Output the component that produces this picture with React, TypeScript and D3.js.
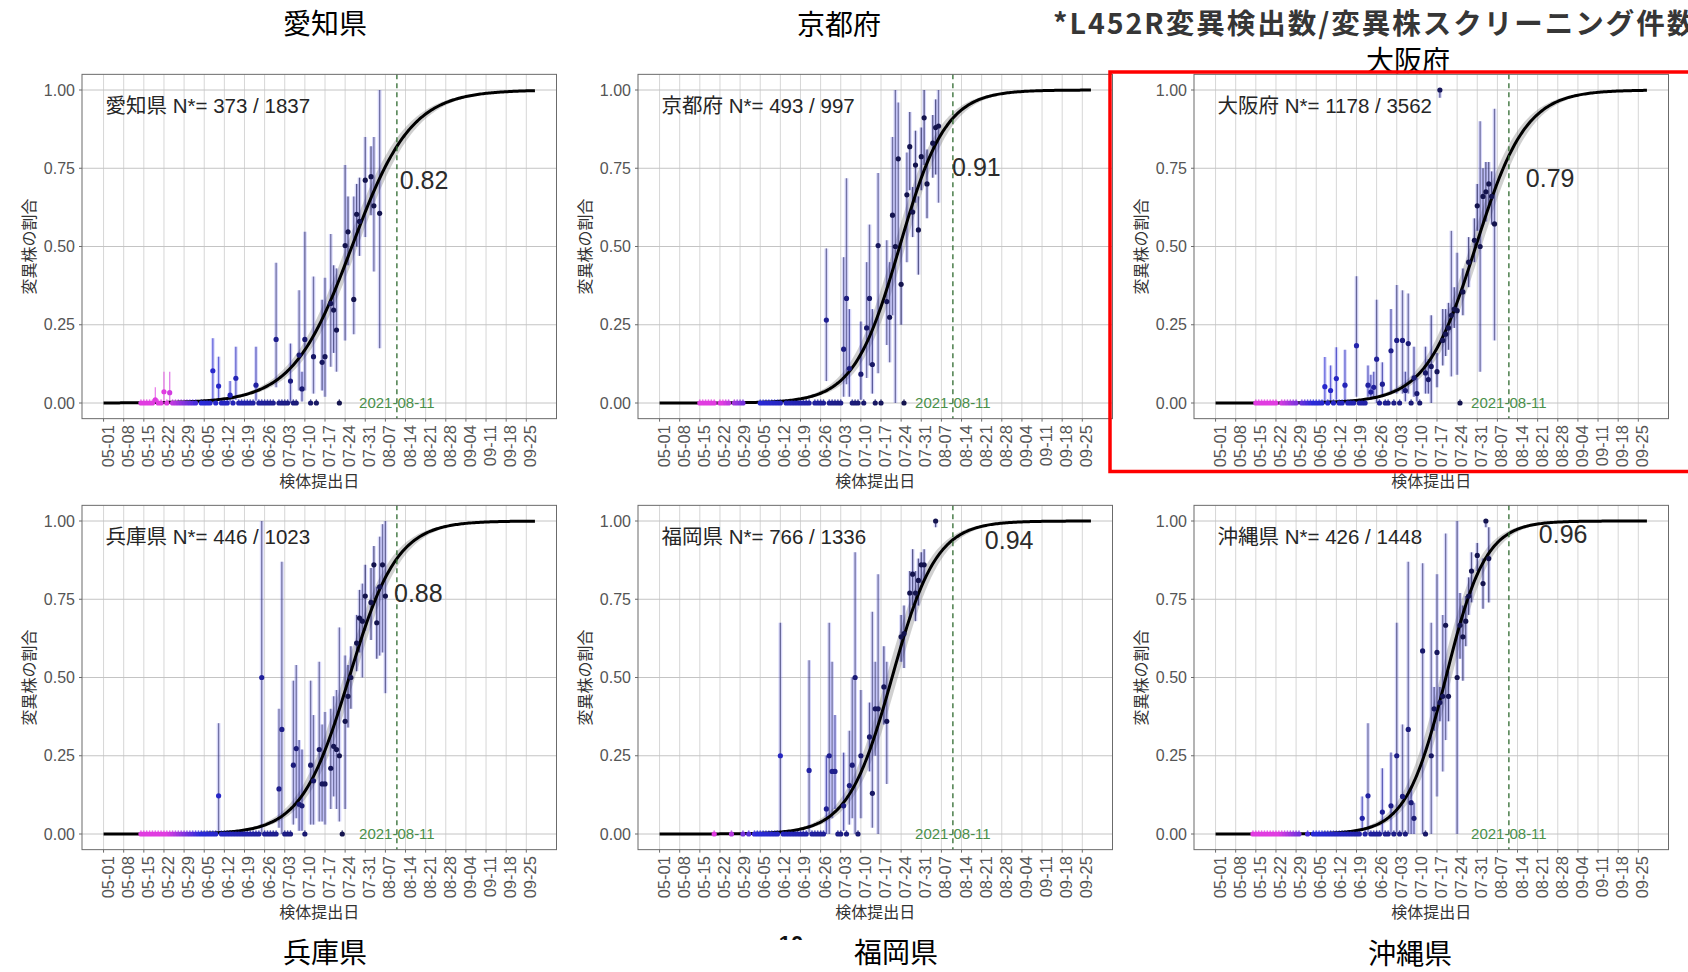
import React from "react";
import * as d3 from "d3";

type Obs = [string, number, number, number];

// ---------- data ----------
const prefectures = ["愛知県", "京都府", "大阪府", "兵庫県", "福岡県", "沖縄県"];
const variantCounts = [373, 493, 1178, 446, 766, 426];
const screenedCounts = [1837, 997, 3562, 1023, 1336, 1448];
// fitted share of the variant on the cut-off date, and daily growth rate of the logistic fit
const shareAtCutoff = [0.82, 0.91, 0.79, 0.88, 0.94, 0.96];
const growthPerDay = [0.097, 0.125, 0.115, 0.12, 0.13, 0.145];
const cutoffDate = "2021-08-11";
const fitStart = "2021-05-01";
const fitEnd = "2021-09-28";
const tickLabels = [
  "05-01", "05-08", "05-15", "05-22", "05-29", "06-05", "06-12", "06-19", "06-26", "07-03", "07-10",
  "07-17", "07-24", "07-31", "08-07", "08-14", "08-21", "08-28", "09-04", "09-11", "09-18", "09-25",
];
const yTicks = [0, 0.25, 0.5, 0.75, 1];
const headline = "*L452R変異検出数/変異株スクリーニング件数";

// daily observations: [date, share, lower CI, upper CI]
const aichiObs: Obs[] = [
  ["05-19", 0.01, 0.0, 0.05], ["05-22", 0.036, 0.005, 0.1], ["05-24", 0.033, 0.005, 0.1],
  ["06-08", 0.103, 0.0, 0.207], ["06-10", 0.054, 0.01, 0.148], ["06-14", 0.025, 0.003, 0.07],
  ["06-16", 0.079, 0.01, 0.18], ["06-23", 0.057, 0.007, 0.18], ["06-30", 0.203, 0.05, 0.448],
  ["07-05", 0.07, 0.0, 0.19], ["07-08", 0.153, 0.04, 0.36], ["07-09", 0.045, 0.005, 0.1],
  ["07-10", 0.203, 0.04, 0.547], ["07-13", 0.148, 0.03, 0.404], ["07-16", 0.13, 0.04, 0.33],
  ["07-17", 0.148, 0.02, 0.4], ["07-19", 0.318, 0.116, 0.54], ["07-20", 0.297, 0.16, 0.44],
  ["07-21", 0.233, 0.1, 0.43], ["07-24", 0.503, 0.2, 0.76], ["07-25", 0.547, 0.44, 0.66],
  ["07-27", 0.331, 0.22, 0.66], ["07-28", 0.603, 0.5, 0.7], ["07-29", 0.58, 0.47, 0.72],
  ["07-31", 0.712, 0.53, 0.85], ["08-02", 0.723, 0.6, 0.82], ["08-03", 0.63, 0.42, 0.85],
  ["08-05", 0.606, 0.175, 1.0],
];
const kyotoObs: Obs[] = [
  ["06-28", 0.265, 0.07, 0.494], ["07-04", 0.172, 0.02, 0.466], ["07-05", 0.334, 0.06, 0.718],
  ["07-06", 0.11, 0.02, 0.3], ["07-10", 0.092, 0.01, 0.26], ["07-12", 0.24, 0.08, 0.45],
  ["07-13", 0.334, 0.12, 0.57], ["07-14", 0.123, 0.03, 0.3], ["07-16", 0.503, 0.095, 0.735],
  ["07-19", 0.324, 0.185, 0.52], ["07-20", 0.274, 0.13, 0.45], ["07-21", 0.6, 0.28, 0.85],
  ["07-22", 0.5, 0.0, 1.0], ["07-23", 0.78, 0.49, 0.96], ["07-24", 0.379, 0.25, 0.52],
  ["07-26", 0.665, 0.45, 0.8], ["07-27", 0.819, 0.68, 0.93], ["07-28", 0.61, 0.53, 0.69],
  ["07-29", 0.76, 0.64, 0.87], ["07-30", 0.553, 0.41, 0.66], ["07-31", 0.787, 0.68, 0.88],
  ["08-01", 0.911, 0.76, 1.0], ["08-02", 0.7, 0.59, 0.81], ["08-04", 0.83, 0.72, 0.92],
  ["08-05", 0.88, 0.73, 0.97], ["08-06", 0.885, 0.64, 1.0],
];
const osakaObs: Obs[] = [
  ["06-08", 0.052, 0.005, 0.147], ["06-10", 0.04, 0.005, 0.12], ["06-12", 0.078, 0.01, 0.178],
  ["06-15", 0.057, 0.005, 0.17], ["06-19", 0.183, 0.02, 0.405], ["06-23", 0.057, 0.02, 0.12],
  ["06-24", 0.035, 0.01, 0.09], ["06-25", 0.05, 0.02, 0.1], ["06-26", 0.14, 0.0, 0.33],
  ["06-28", 0.06, 0.02, 0.13], ["07-01", 0.167, 0.03, 0.3], ["07-03", 0.2, 0.03, 0.377],
  ["07-05", 0.2, 0.03, 0.36], ["07-06", 0.04, 0.005, 0.1], ["07-07", 0.19, 0.03, 0.35],
  ["07-09", 0.08, 0.02, 0.18], ["07-10", 0.03, 0.005, 0.08], ["07-13", 0.096, 0.03, 0.18],
  ["07-14", 0.075, 0.03, 0.14], ["07-15", 0.117, 0.0, 0.28], ["07-17", 0.1, 0.05, 0.16],
  ["07-18", 1.0, 0.975, 1.0], ["07-19", 0.2, 0.12, 0.3], ["07-20", 0.22, 0.15, 0.3],
  ["07-21", 0.24, 0.17, 0.32], ["07-22", 0.28, 0.085, 0.55], ["07-23", 0.3, 0.24, 0.37],
  ["07-24", 0.295, 0.09, 0.48], ["07-26", 0.355, 0.28, 0.43], ["07-28", 0.45, 0.37, 0.53],
  ["07-30", 0.52, 0.45, 0.59], ["07-31", 0.63, 0.55, 0.7], ["08-01", 0.5, 0.1, 0.9],
  ["08-02", 0.66, 0.57, 0.75], ["08-03", 0.675, 0.58, 0.77], ["08-04", 0.7, 0.63, 0.77],
  ["08-05", 0.66, 0.57, 0.74], ["08-06", 0.572, 0.2, 0.94],
];
const hyogoObs: Obs[] = [
  ["06-10", 0.122, 0.0, 0.354], ["06-25", 0.5, 0.0, 1.0], ["07-01", 0.144, 0.02, 0.4],
  ["07-02", 0.334, 0.0, 0.87], ["07-06", 0.22, 0.03, 0.49], ["07-07", 0.273, 0.05, 0.54],
  ["07-08", 0.095, 0.01, 0.3], ["07-09", 0.09, 0.01, 0.27], ["07-12", 0.22, 0.03, 0.49],
  ["07-13", 0.17, 0.03, 0.38], ["07-15", 0.27, 0.04, 0.55], ["07-16", 0.16, 0.04, 0.35],
  ["07-17", 0.16, 0.03, 0.39], ["07-19", 0.21, 0.08, 0.4], ["07-20", 0.28, 0.12, 0.44],
  ["07-21", 0.27, 0.08, 0.46], ["07-22", 0.25, 0.04, 0.66], ["07-24", 0.36, 0.08, 0.57],
  ["07-25", 0.44, 0.34, 0.54], ["07-26", 0.5, 0.4, 0.6], ["07-28", 0.61, 0.52, 0.7],
  ["07-29", 0.69, 0.58, 0.78], ["07-30", 0.68, 0.5, 0.8], ["07-31", 0.76, 0.65, 0.86],
  ["08-02", 0.74, 0.62, 0.85], ["08-03", 0.86, 0.75, 0.92], ["08-04", 0.675, 0.56, 0.79],
  ["08-05", 0.79, 0.57, 0.95], ["08-06", 0.86, 0.58, 0.99], ["08-07", 0.76, 0.45, 1.0],
];
const fukuokaObs: Obs[] = [
  ["06-12", 0.25, 0.0, 0.675], ["06-22", 0.203, 0.0, 0.555], ["06-28", 0.08, 0.0, 0.25],
  ["06-29", 0.25, 0.0, 0.675], ["06-30", 0.2, 0.05, 0.55], ["07-01", 0.2, 0.08, 0.38],
  ["07-04", 0.09, 0.01, 0.26], ["07-06", 0.155, 0.03, 0.33], ["07-07", 0.22, 0.05, 0.5],
  ["07-08", 0.5, 0.0, 0.9], ["07-10", 0.25, 0.05, 0.46], ["07-13", 0.31, 0.2, 0.42],
  ["07-14", 0.13, 0.02, 0.71], ["07-15", 0.4, 0.25, 0.55], ["07-16", 0.4, 0.0, 0.83],
  ["07-18", 0.47, 0.35, 0.6], ["07-19", 0.36, 0.16, 0.55], ["07-24", 0.63, 0.55, 0.7],
  ["07-25", 0.64, 0.53, 0.73], ["07-27", 0.77, 0.69, 0.84], ["07-28", 0.83, 0.73, 0.91],
  ["07-29", 0.77, 0.68, 0.84], ["07-30", 0.81, 0.73, 0.88], ["07-31", 0.86, 0.8, 0.9],
  ["08-01", 0.86, 0.81, 0.91], ["08-05", 1.0, 0.98, 1.0],
];
const okinawaObs: Obs[] = [
  ["06-21", 0.05, 0.01, 0.12], ["06-23", 0.122, 0.0, 0.354], ["06-28", 0.07, 0.0, 0.21],
  ["07-01", 0.09, 0.0, 0.26], ["07-03", 0.25, 0.0, 0.675], ["07-05", 0.12, 0.0, 0.35],
  ["07-07", 0.334, 0.0, 0.87], ["07-08", 0.1, 0.0, 0.15], ["07-09", 0.05, 0.0, 0.1],
  ["07-12", 0.585, 0.0, 0.865], ["07-15", 0.25, 0.0, 0.675], ["07-16", 0.4, 0.33, 0.47],
  ["07-17", 0.58, 0.12, 0.83], ["07-18", 0.42, 0.36, 0.47], ["07-19", 0.44, 0.2, 0.7],
  ["07-20", 0.667, 0.3, 0.96], ["07-21", 0.44, 0.36, 0.52], ["07-24", 0.5, 0.0, 1.0],
  ["07-25", 0.667, 0.56, 0.77], ["07-26", 0.63, 0.49, 0.73], ["07-27", 0.68, 0.6, 0.76],
  ["07-28", 0.76, 0.7, 0.82], ["07-29", 0.84, 0.74, 0.9], ["07-31", 0.89, 0.84, 0.93],
  ["08-02", 0.8, 0.72, 0.88], ["08-03", 1.0, 0.98, 1.0], ["08-04", 0.88, 0.74, 0.98],
];

// days on which no variant was detected
const aichiZeros = "05-14 05-15 05-16 05-17 05-18 05-20 05-21 05-23 05-25 05-26 05-27 05-28 05-29 05-30 05-31 06-01 06-02 06-04 06-05 06-06 06-07 06-09 06-11 06-12 06-13 06-15 06-17 06-18 06-19 06-20 06-21 06-22 06-24 06-25 06-26 06-27 06-28 06-29 07-01 07-02 07-03 07-04 07-06 07-07 07-12 07-14 07-22".split(" ");
const kyotoZeros = "05-15 05-16 05-17 05-18 05-19 05-20 05-22 05-23 05-24 05-25 05-27 05-28 05-29 05-30 06-05 06-06 06-07 06-08 06-09 06-10 06-11 06-12 06-14 06-15 06-16 06-17 06-18 06-19 06-20 06-21 06-22 06-24 06-25 06-26 06-27 06-29 06-30 07-01 07-02 07-03 07-07 07-08 07-09 07-11 07-15 07-17 07-25".split(" ");
const osakaZeros = "05-15 05-16 05-17 05-18 05-19 05-20 05-21 05-22 05-24 05-25 05-26 05-27 05-28 05-29 05-31 06-01 06-02 06-03 06-04 06-05 06-06 06-07 06-09 06-11 06-13 06-14 06-16 06-17 06-18 06-20 06-21 06-22 06-27 06-29 06-30 07-02 07-04 07-08 07-11 07-25".split(" ");
const hyogoZeros = "05-14 05-15 05-16 05-17 05-18 05-19 05-20 05-21 05-22 05-23 05-24 05-25 05-26 05-27 05-28 05-29 05-30 05-31 06-01 06-02 06-03 06-04 06-05 06-06 06-07 06-08 06-09 06-11 06-12 06-13 06-14 06-15 06-16 06-17 06-18 06-19 06-20 06-21 06-22 06-23 06-24 06-26 06-27 06-28 06-29 06-30 07-03 07-04 07-05 07-10 07-23".split(" ");
const fukuokaZeros = "05-20 05-26 05-30 06-01 06-03 06-04 06-05 06-06 06-07 06-08 06-09 06-10 06-11 06-13 06-14 06-15 06-16 06-17 06-18 06-19 06-20 06-21 06-23 06-24 06-25 06-26 06-27 07-02 07-03 07-05 07-09".split(" ");
const okinawaZeros = "05-14 05-15 05-16 05-17 05-18 05-19 05-20 05-21 05-22 05-23 05-24 05-25 05-26 05-27 05-28 05-29 05-30 06-02 06-04 06-05 06-06 06-07 06-08 06-09 06-10 06-11 06-12 06-13 06-14 06-15 06-16 06-17 06-18 06-19 06-20 06-22 06-24 06-25 06-26 06-27 06-29 06-30 07-02 07-04 07-06 07-13".split(" ");

const observations = [aichiObs, kyotoObs, osakaObs, hyogoObs, fukuokaObs, okinawaObs];
const zeroDays = [aichiZeros, kyotoZeros, osakaZeros, hyogoZeros, fukuokaZeros, okinawaZeros];

// ---------- layout ----------
const W = 1688;
const H = 972;
const PANEL_W = 474.5;
const COL_LEFT = [82, 638, 1194];
const ROW_Y = [
  { one: 90, zero: 403 },
  { one: 521, zero: 834 },
];
// where the fitted-share label sits: days after fitStart, and share-axis value
const shareLabelPos = [
  { day: 103, y: 0.712 }, { day: 101.7, y: 0.754 }, { day: 107.9, y: 0.719 },
  { day: 101, y: 0.77 }, { day: 113.1, y: 0.939 }, { day: 112.4, y: 0.958 },
];
const titlePos = [
  { x: 325, y: 24 }, { x: 839, y: 25 }, { x: 1408, y: 61 },
  { x: 325, y: 953 }, { x: 896, y: 953 }, { x: 1410, y: 954 },
];

const SANS = "'Liberation Sans', Arial, Helvetica, sans-serif";
const CJK = "'Noto Sans CJK JP', 'Noto Sans', sans-serif";
const DAY = 864e5;

const parseISO = d3.utcParse("%Y-%m-%d");
const parseMD = (md: string) => parseISO("2021-" + md) as Date;
const t0 = parseISO(fitStart) as Date;
const t1 = parseISO(fitEnd) as Date;
const tCut = parseISO(cutoffDate) as Date;
const cutDay = (tCut.getTime() - t0.getTime()) / DAY;
const spanDays = (t1.getTime() - t0.getTime()) / DAY;

const pointColor = d3
  .scaleLinear<string>()
  .domain([22, 34, 82])
  .range(["#e03ce0", "#2a2ad8", "#14144e"])
  .clamp(true);

const logistic = (day: number, mid: number, k: number) => 1 / (1 + Math.exp(-k * (day - mid)));

function Panel({ idx }: { idx: number }) {
  const col = idx % 3;
  const row = Math.floor(idx / 3);
  const left = COL_LEFT[col];
  const right = left + PANEL_W;
  const { one, zero } = ROW_Y[row];
  const unit = zero - one;
  const top = one - 0.05 * unit;
  const bottom = zero + 0.05 * unit;
  const pad = spanDays * 0.05;

  const x = d3
    .scaleUtc()
    .domain([new Date(t0.getTime() - pad * DAY), new Date(t1.getTime() + pad * DAY)])
    .range([left, right]);
  const y = d3.scaleLinear().domain([-0.05, 1.05]).range([bottom, top]);
  const xDay = (d: number) => x(new Date(t0.getTime() + d * DAY));

  const k = growthPerDay[idx];
  const v = shareAtCutoff[idx];
  const mid = cutDay - Math.log(v / (1 - v)) / k;

  const days = d3.range(0, spanDays + 0.001, 0.5);
  const line = d3
    .line<number>()
    .x((d) => xDay(d))
    .y((d) => y(logistic(d, mid, k)));
  const band = d3
    .area<number>()
    .x((d) => xDay(d))
    .y0((d) => y(logistic(d, mid + 2, k)))
    .y1((d) => y(logistic(d, mid - 2, k)));

  const dayOf = (md: string) => (parseMD(md).getTime() - t0.getTime()) / DAY;
  const obs = observations[idx].map(([md, p, lo, hi]) => ({ d: dayOf(md), p, lo, hi }));
  const zeros = zeroDays[idx].map((md) => ({ d: dayOf(md), p: 0, lo: 0, hi: 0.012 }));
  const all = [...zeros, ...obs];

  const ticks = tickLabels.map((md) => parseMD(md));
  const fmt = d3.utcFormat("%m-%d");
  const cx = (left + right) / 2;
  const lbl = shareLabelPos[idx];

  return (
    <g>
      <rect x={left} y={top} width={PANEL_W} height={bottom - top} fill="#ffffff" />
      {ticks.map((t, i) => (
        <line key={"vg" + i} x1={x(t)} x2={x(t)} y1={top} y2={bottom} stroke="#d6d6d6" strokeWidth={1} />
      ))}
      {yTicks.map((t) => (
        <line key={"hg" + t} x1={left} x2={right} y1={y(t)} y2={y(t)} stroke="#c4c4c4" strokeWidth={1} />
      ))}

      {/* confidence band of the fit */}
      <path d={band(days) || ""} fill="#8a8a8a" fillOpacity={0.4} />

      {/* error bars */}
      {all.map((o, i) => {
        const c = pointColor(o.d);
        const wide = o.hi - o.lo > 0.3;
        return (
          <g key={"eb" + i}>
            {o.d > 30 && o.hi - o.lo > 0.02 && (
              <line x1={xDay(o.d)} x2={xDay(o.d)} y1={y(o.lo)} y2={y(o.hi)} stroke="#5a5af0" strokeOpacity={0.24} strokeWidth={3.8} />
            )}
            <line
              x1={xDay(o.d)}
              x2={xDay(o.d)}
              y1={y(o.lo)}
              y2={y(o.hi)}
              stroke={wide ? "#34346e" : c}
              strokeOpacity={wide ? 0.62 : 0.65}
              strokeWidth={1.3}
            />
          </g>
        );
      })}

      {/* fitted logistic curve */}
      <path d={line(days) || ""} fill="none" stroke="#000000" strokeWidth={3} strokeLinejoin="round" />

      {all.map((o, i) => (
        <circle key={"pt" + i} cx={xDay(o.d)} cy={y(o.p)} r={2.6} fill={pointColor(o.d)} />
      ))}

      {/* cut-off date */}
      <line x1={x(tCut)} x2={x(tCut)} y1={top} y2={bottom} stroke="#2f6a2f" strokeWidth={1.3} strokeDasharray="5,4" />
      <text x={x(tCut)} y={y(0)} dy="0.35em" textAnchor="middle" fontFamily={SANS} fontSize={15} fill="#4a8f4a">
        {cutoffDate}
      </text>

      <text x={xDay(lbl.day)} y={y(lbl.y)} dy="0.36em" fontFamily={SANS} fontSize={25} fill="#2b2b2b">
        {v.toFixed(2)}
      </text>

      <text x={x(t0) + 2} y={y(0.95)} dy="0.36em" fontSize={20.5} fill="#262626">
        <tspan fontFamily={CJK}>{prefectures[idx]}</tspan>
        <tspan fontFamily={SANS}>{` N*= ${variantCounts[idx]} / ${screenedCounts[idx]}`}</tspan>
      </text>

      <rect x={left} y={top} width={PANEL_W} height={bottom - top} fill="none" stroke="#6b6b6b" strokeWidth={1} />

      {/* y axis */}
      {yTicks.map((t) => (
        <g key={"yt" + t}>
          <line x1={left - 3} x2={left} y1={y(t)} y2={y(t)} stroke="#6b6b6b" />
          <text x={left - 7} y={y(t)} dy="0.35em" textAnchor="end" fontFamily={SANS} fontSize={16} fill="#555555">
            {t.toFixed(2)}
          </text>
        </g>
      ))}
      <text
        transform={`translate(${left - 53},${(top + bottom) / 2}) rotate(-90)`}
        textAnchor="middle"
        dy="0.35em"
        fontFamily={CJK}
        fontSize={16}
        fill="#333333"
      >
        変異株の割合
      </text>

      {/* x axis */}
      {ticks.map((t, i) => (
        <g key={"xt" + i}>
          <line x1={x(t)} x2={x(t)} y1={bottom} y2={bottom + 3} stroke="#6b6b6b" />
          <text
            transform={`translate(${x(t) + 10},${bottom + 6.5}) rotate(-90)`}
            textAnchor="end"
            fontFamily={SANS}
            fontSize={16.5}
            fill="#555555"
          >
            {fmt(t)}
          </text>
        </g>
      ))}
      <text x={cx} y={bottom + 62.5} dy="0.35em" textAnchor="middle" fontFamily={CJK} fontSize={16} fill="#333333">
        検体提出日
      </text>

      <text
        x={titlePos[idx].x}
        y={titlePos[idx].y}
        dy="0.36em"
        textAnchor="middle"
        fontFamily={CJK}
        fontSize={28}
        fill="#000000"
      >
        {prefectures[idx]}
      </text>
    </g>
  );
}

export default function App() {
  return (
    <div style={{ position: "absolute", left: 0, top: 0, width: W, height: H, background: "#ffffff" }}>
      <svg width={W} height={H} viewBox={`0 0 ${W} ${H}`} style={{ display: "block" }}>
        <defs>
          <clipPath id="pageNumberClip">
            <rect x={770} y={932} width={40} height={8} />
          </clipPath>
        </defs>
        <rect x={0} y={0} width={W} height={H} fill="#ffffff" />
        {prefectures.map((_, i) => (
          <Panel key={i} idx={i} />
        ))}
        <text
          x={1053}
          y={24}
          dy="0.36em"
          fontFamily={CJK}
          fontWeight={700}
          fontSize={28.5}
          letterSpacing={2}
          fill="#363636"
        >
          {headline}
        </text>
        <rect x={1110} y={72} width={620} height={399.5} fill="none" stroke="#ff0000" strokeWidth={3.5} />
        <text x={791} y={951} textAnchor="middle" fontFamily={SANS} fontWeight={700} fontSize={22} fill="#111111" clipPath="url(#pageNumberClip)">
          10
        </text>
      </svg>
    </div>
  );
}
